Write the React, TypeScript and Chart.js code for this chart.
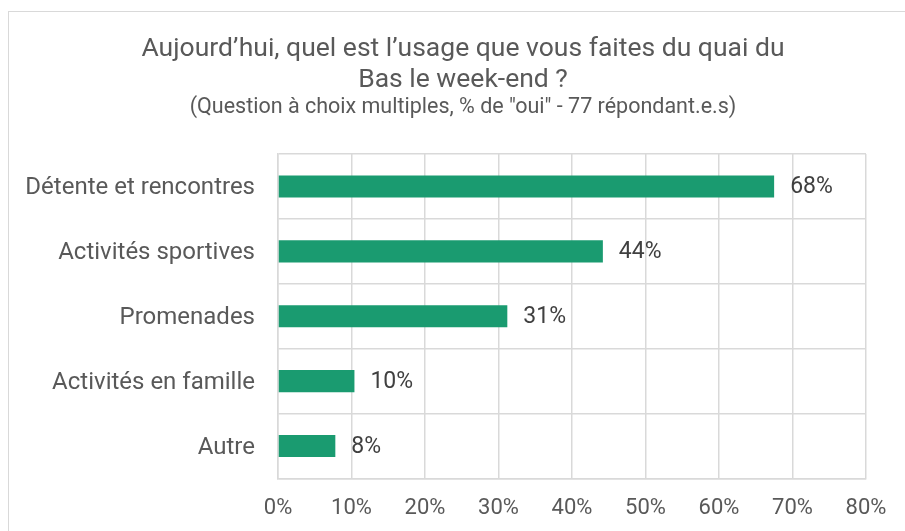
import React, { useEffect, useRef } from "react";
import { Chart, registerables } from "chart.js";

Chart.register(...registerables);

const titleLines = ["Aujourd\u2019hui, quel est l\u2019usage que vous faites du quai du", "Bas le week-end ?"];
const subtitle = '(Question à choix multiples, % de "oui" - 77 répondant.e.s)';
const categories = ["Détente et rencontres", "Activités sportives", "Promenades", "Activités en famille", "Autre"];
const values = [67.5, 44.2, 31.2, 10.4, 7.8];
const valueLabels = ["68%", "44%", "31%", "10%", "8%"];
const xTicks = [0, 10, 20, 30, 40, 50, 60, 70, 80];

const FONT = "Roboto, 'Noto Sans', sans-serif";

export default function App() {
  const ref = useRef<HTMLCanvasElement | null>(null);
  useEffect(() => {
    if (!ref.current) return;
    const titlePlugin = {
      id: "customTitle",
      afterDraw(chart: any) {
        const ctx = chart.ctx;
        ctx.save();
        ctx.fillStyle = "#595959";
        ctx.textAlign = "center";
        ctx.textBaseline = "alphabetic";
        ctx.font = `26.5px ${FONT}`;
        ctx.fillText(titleLines[0], 463, 56);
        ctx.fillText(titleLines[1], 463, 87);
        ctx.font = `21.5px ${FONT}`;
        ctx.fillText(subtitle, 463, 112.5);
        ctx.restore();
      },
    };
    const labelPlugin = {
      id: "valueLabels",
      afterDatasetsDraw(chart: any) {
        const ctx = chart.ctx;
        const meta = chart.getDatasetMeta(0);
        ctx.save();
        ctx.fillStyle = "#404040";
        ctx.textAlign = "left";
        ctx.textBaseline = "middle";
        ctx.font = `23px ${FONT}`;
        meta.data.forEach((bar: any, i: number) => {
          ctx.fillText(valueLabels[i], bar.x + 16, bar.y + 1);
        });
        ctx.restore();
      },
    };
    const chart = new Chart(ref.current, {
      type: "bar",
      data: {
        labels: categories,
        datasets: [
          {
            data: values,
            backgroundColor: "#1a9b70",
            borderWidth: 0,
            barPercentage: 0.34,
            categoryPercentage: 1,
          },
        ],
      },
      options: {
        indexAxis: "y",
        animation: false,
        responsive: false,
        maintainAspectRatio: false,
        layout: { padding: { top: 154, right: 39, left: 0, bottom: 0 } },
        plugins: {
          legend: { display: false },
          title: { display: false },
          tooltip: { enabled: false },
        },
        scales: {
          x: {
            type: "linear",
            min: 0,
            max: 80,
            afterBuildTicks(scale: any) {
              scale.ticks = xTicks.map((v) => ({ value: v }));
            },
            afterFit(scale: any) {
              scale.height = 52.5;
            },
            grid: { color: "#d9d9d9", lineWidth: 1.5, drawTicks: false },
            border: { color: "#d9d9d9", width: 1.5 },
            ticks: {
              padding: 17,
              color: "#595959",
              font: { family: FONT, size: 22 },
              callback: (v: any) => `${v}%`,
            },
          },
          y: {
            afterFit(scale: any) {
              scale.width = 278;
            },
            grid: { color: "#d9d9d9", lineWidth: 1.5, drawTicks: false },
            border: { color: "#d9d9d9", width: 1.5 },
            ticks: {
              padding: 23,
              labelOffset: 1.5,
              color: "#595959",
              font: { family: FONT, size: 24 },
            },
          },
        },
      },
      plugins: [titlePlugin, labelPlugin],
    });
    return () => chart.destroy();
  }, []);
  return (
    <div style={{ position: "fixed", left: 0, top: 0, width: 905, height: 531, overflow: "hidden", background: "#fff" }}>
      <div
        style={{
          position: "absolute",
          left: 8,
          top: 11,
          width: 1200,
          height: 1200,
          border: "1px solid #d9d9d9",
          boxSizing: "border-box",
        }}
      />
      <canvas ref={ref} width={905} height={531} style={{ position: "absolute", left: 0, top: 0, width: 905, height: 531 }} />
    </div>
  );
}
